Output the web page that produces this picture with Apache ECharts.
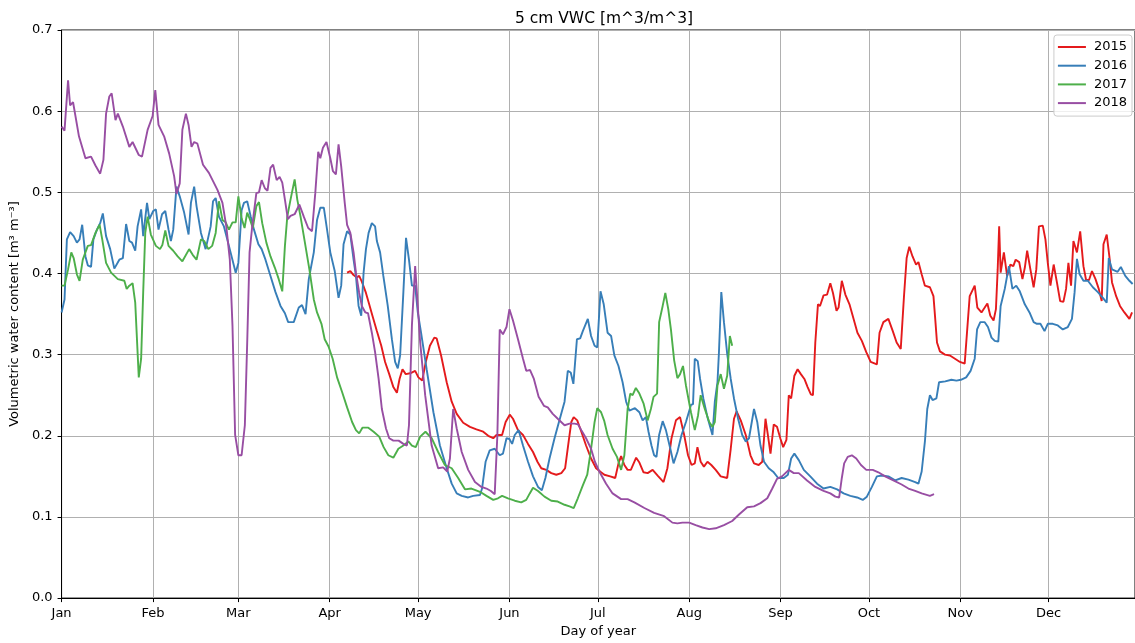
<!DOCTYPE html>
<html><head><meta charset="utf-8">
<script src="https://cdn.jsdelivr.net/npm/echarts/dist/echarts.min.js"></script>
<style>html,body{margin:0;padding:0;background:#fff}#c{width:1135px;height:643px}</style>
</head><body><div id="c"></div>
<script>
const monthStarts = [0,31,60,91,121,152,182,213,244,274,305,335];
const monthLabels = ['Jan','Feb','Mar','Apr','May','Jun','Jul','Aug','Sep','Oct','Nov','Dec'];
const seriesNames = ['2015','2016','2017','2018'];
const seriesColors = ['#e41a1c','#377eb8','#4daf4a','#984ea3'];

const vwc2015 = [[96.9,0.401],[98,0.403],[99.1,0.398],[100.2,0.395],[101,0.397],[101.9,0.390],[103.3,0.376],[104.4,0.362],[105.5,0.348],[107,0.329],[108.5,0.311],[109.8,0.291],[111.2,0.276],[112.6,0.260],[113.8,0.253],[114.7,0.270],[115.7,0.282],[116.8,0.276],[118.3,0.277],[120,0.280],[121.1,0.272],[122.4,0.268],[123.6,0.291],[125,0.311],[126.5,0.321],[127.3,0.320],[128.8,0.299],[130.7,0.266],[132.4,0.242],[134.1,0.227],[136.3,0.216],[138.6,0.211],[140.8,0.208],[143.1,0.205],[144.8,0.200],[146.5,0.197],[147.6,0.201],[149.5,0.201],[150.7,0.217],[152.1,0.226],[153.2,0.221],[154.9,0.207],[156.6,0.201],[158.3,0.190],[160,0.180],[161.5,0.168],[162.8,0.160],[164.5,0.158],[166.2,0.154],[167.9,0.152],[169.6,0.154],[170.9,0.160],[172.1,0.193],[173,0.217],[173.8,0.223],[175,0.219],[176.4,0.205],[178,0.188],[179.7,0.172],[181.4,0.160],[183.1,0.155],[184.2,0.152],[186.2,0.150],[187.9,0.148],[189,0.166],[189.9,0.175],[191,0.164],[192.1,0.158],[193.2,0.158],[195,0.173],[196.1,0.167],[197.5,0.155],[198.9,0.154],[200.6,0.158],[202.3,0.151],[204.3,0.143],[205.6,0.160],[207,0.197],[208.5,0.219],[209.9,0.223],[211.3,0.201],[212.6,0.176],[213.8,0.164],[214.9,0.166],[215.8,0.186],[216.9,0.168],[218,0.162],[219.2,0.168],[220.5,0.164],[222,0.158],[223.7,0.150],[225.9,0.148],[227.1,0.184],[228.2,0.221],[229.1,0.230],[230.5,0.219],[232.2,0.201],[233.8,0.176],[235,0.166],[236.6,0.164],[237.8,0.168],[238.9,0.221],[239.7,0.201],[240.6,0.178],[241.7,0.214],[242.8,0.211],[244,0.196],[244.9,0.186],[246,0.195],[246.8,0.250],[247.6,0.246],[248.7,0.274],[249.8,0.282],[250.9,0.276],[252.1,0.270],[253.2,0.260],[254.3,0.251],[255,0.250],[255.8,0.315],[256.7,0.362],[257.4,0.360],[258.6,0.373],[259.8,0.374],[260.9,0.388],[261.8,0.376],[263,0.354],[263.7,0.358],[264.8,0.391],[266,0.374],[267.4,0.362],[268.8,0.344],[270.1,0.327],[271.6,0.317],[273.1,0.303],[274.6,0.291],[276.7,0.288],[277.6,0.327],[278.9,0.340],[280.6,0.344],[282.1,0.329],[283.4,0.315],[284.8,0.307],[285.9,0.372],[286.8,0.419],[287.7,0.433],[288.8,0.421],[290,0.411],[290.8,0.414],[291.9,0.399],[293,0.385],[294.7,0.383],[295.9,0.372],[296.5,0.344],[297.1,0.315],[298.1,0.304],[299.8,0.300],[301.5,0.299],[303.2,0.295],[304.9,0.291],[306.5,0.289],[308.2,0.372],[309.9,0.385],[310.8,0.358],[312.2,0.352],[313.3,0.358],[314.2,0.363],[315.2,0.348],[316.3,0.342],[317.1,0.356],[317.7,0.405],[318.2,0.458],[318.7,0.401],[319.8,0.426],[320.9,0.397],[322,0.411],[323,0.409],[323.8,0.417],[325,0.414],[326.1,0.393],[326.9,0.407],[327.7,0.428],[328.8,0.405],[329.9,0.383],[330.8,0.405],[331.7,0.458],[333,0.459],[333.9,0.442],[334.7,0.413],[335.6,0.385],[336.7,0.411],[337.8,0.389],[338.9,0.366],[340,0.365],[340.9,0.381],[341.7,0.413],[342.6,0.385],[343.4,0.440],[344.6,0.426],[345.7,0.452],[346.8,0.409],[347.7,0.392],[348.7,0.392],[349.7,0.403],[350.9,0.393],[352,0.381],[353,0.366],[353.6,0.436],[354.7,0.448],[355.6,0.421],[356.5,0.389],[357.9,0.372],[359.2,0.360],[360.7,0.352],[362.4,0.344],[363.3,0.352]];

const vwc2016 = [[0,0.352],[1,0.368],[1.8,0.442],[2.9,0.451],[4.1,0.446],[5.2,0.438],[6.1,0.442],[7,0.460],[8.1,0.421],[8.9,0.410],[10,0.408],[10.8,0.442],[12,0.454],[13.1,0.462],[14,0.474],[15.1,0.446],[16.5,0.430],[17.9,0.406],[19.6,0.417],[20.8,0.419],[21.9,0.461],[23,0.440],[23.9,0.438],[25,0.428],[25.8,0.458],[27,0.479],[27.7,0.446],[29,0.487],[29.8,0.467],[31.1,0.477],[32,0.479],[32.9,0.454],[34.1,0.473],[35.2,0.477],[36.3,0.454],[37.1,0.440],[37.9,0.454],[39,0.507],[40.1,0.495],[41.6,0.475],[43.1,0.448],[43.9,0.487],[45,0.507],[45.8,0.483],[47.3,0.450],[48.9,0.430],[50.6,0.458],[51.4,0.489],[52.3,0.493],[53.4,0.470],[55.1,0.458],[56.8,0.434],[59.1,0.401],[60,0.413],[61.1,0.478],[61.9,0.487],[63,0.489],[64.2,0.470],[65.3,0.454],[66.8,0.436],[67.9,0.430],[69.2,0.417],[70.9,0.397],[72.6,0.377],[74.3,0.360],[75.8,0.351],[76.9,0.340],[78.8,0.340],[80.5,0.358],[81.6,0.361],[82.8,0.350],[83.9,0.393],[85.6,0.426],[86.7,0.466],[87.8,0.481],[89,0.481],[90.1,0.454],[91.2,0.426],[92.7,0.403],[94,0.370],[94.9,0.385],[95.7,0.436],[96.9,0.452],[98,0.448],[99.1,0.417],[99.9,0.397],[100.8,0.360],[101.7,0.348],[102.5,0.401],[103.3,0.430],[104.2,0.450],[105.3,0.462],[106.4,0.458],[107,0.440],[108.1,0.426],[109.2,0.397],[110.7,0.360],[112.1,0.319],[113.2,0.291],[114.1,0.283],[114.9,0.299],[116,0.377],[116.9,0.444],[117.9,0.417],[118.9,0.385],[120,0.385],[120.9,0.352],[122,0.327],[123.9,0.282],[126.2,0.229],[128.4,0.188],[130.7,0.160],[132.4,0.141],[134.1,0.129],[135.8,0.126],[138,0.124],[139.7,0.126],[142,0.127],[142.7,0.135],[143.9,0.168],[145.3,0.182],[147,0.184],[148.7,0.176],[149.8,0.178],[151,0.197],[152,0.196],[152.9,0.190],[153.8,0.201],[155.1,0.207],[156.6,0.188],[158.3,0.168],[160,0.150],[161.7,0.137],[163,0.133],[164.2,0.148],[165.6,0.172],[167.3,0.197],[168.8,0.217],[170.7,0.242],[171.8,0.280],[172.8,0.278],[173.7,0.264],[174.9,0.319],[176,0.320],[176.9,0.329],[178.6,0.344],[179.7,0.323],[180.9,0.311],[181.8,0.309],[182.9,0.378],[184,0.362],[185.3,0.327],[186.5,0.323],[187.6,0.299],[189,0.286],[190.4,0.266],[191.6,0.242],[192.7,0.231],[194.6,0.234],[196.1,0.229],[197.2,0.219],[198.3,0.223],[199.2,0.205],[200.2,0.188],[201.1,0.176],[201.9,0.174],[202.8,0.201],[204,0.218],[205.1,0.207],[206.6,0.184],[207.7,0.166],[209,0.180],[210.4,0.201],[211.9,0.217],[213.6,0.238],[214.3,0.239],[214.9,0.295],[215.9,0.292],[216.7,0.270],[217.8,0.246],[219.2,0.223],[220.9,0.201],[221.7,0.242],[222.6,0.266],[223.1,0.303],[223.9,0.377],[224.8,0.340],[225.9,0.301],[227.1,0.270],[228.2,0.246],[229.6,0.221],[231,0.201],[232.2,0.193],[233.3,0.197],[235,0.233],[236.1,0.217],[237.2,0.188],[238.4,0.168],[240,0.160],[241.7,0.155],[243.2,0.148],[245.1,0.148],[246.5,0.152],[247.6,0.172],[248.7,0.178],[250.2,0.170],[251.9,0.158],[254.1,0.150],[256.4,0.141],[258.6,0.135],[260.9,0.137],[263.2,0.134],[265.4,0.129],[267.7,0.126],[270,0.124],[271.9,0.121],[273.3,0.125],[275,0.137],[276.7,0.150],[278.4,0.151],[280.6,0.150],[282.9,0.145],[285.1,0.148],[287.4,0.146],[289.7,0.143],[290.8,0.141],[291.9,0.156],[293,0.193],[293.8,0.233],[294.7,0.250],[295.6,0.244],[296.9,0.246],[297.8,0.266],[299.9,0.267],[302,0.269],[303.7,0.268],[305.2,0.269],[307,0.272],[308.5,0.280],[309.9,0.295],[310.7,0.331],[311.8,0.340],[313.3,0.340],[314.4,0.334],[315.6,0.321],[316.7,0.317],[317.9,0.316],[318.7,0.360],[320.1,0.381],[321.5,0.409],[322.7,0.381],[324,0.385],[325.2,0.378],[326.9,0.362],[328.5,0.352],[329.9,0.340],[331,0.338],[332.2,0.338],[333.6,0.329],[334.7,0.338],[336.4,0.338],[338.1,0.336],[339.8,0.331],[341.5,0.334],[342.9,0.344],[343.8,0.377],[344.6,0.418],[345.5,0.399],[346.8,0.391],[348.3,0.391],[350,0.383],[351.7,0.377],[353.4,0.370],[354.7,0.364],[355.4,0.419],[356.5,0.405],[358.4,0.402],[359.5,0.408],[361,0.397],[362.4,0.391],[363.5,0.387]];

const vwc2017 = [[0,0.385],[1,0.385],[2.2,0.405],[3.3,0.426],[4.1,0.419],[5.2,0.399],[6.1,0.391],[7.2,0.417],[8.9,0.434],[10,0.435],[11.5,0.450],[12.9,0.460],[13.8,0.442],[15.1,0.413],[16.8,0.401],[19.1,0.393],[21.3,0.391],[22.1,0.381],[23,0.385],[24.1,0.388],[25,0.364],[26.2,0.272],[27,0.295],[27.7,0.377],[28.4,0.450],[29.2,0.470],[30.3,0.448],[32,0.434],[33.4,0.430],[34.2,0.435],[35.2,0.453],[36.3,0.434],[37.9,0.428],[39.4,0.421],[41,0.415],[43.3,0.430],[44.5,0.423],[45.8,0.417],[47.3,0.442],[48.4,0.440],[49.8,0.430],[51.1,0.434],[52.3,0.450],[53.4,0.489],[54.6,0.466],[55.7,0.463],[56.8,0.454],[58,0.463],[59.1,0.463],[60,0.495],[61.1,0.468],[62.1,0.456],[63,0.475],[63.9,0.467],[64.9,0.456],[66.1,0.483],[67,0.488],[68.1,0.462],[69.5,0.438],[70.9,0.421],[72.4,0.407],[73.7,0.393],[74.9,0.378],[75.8,0.434],[76.6,0.470],[77.7,0.491],[79.1,0.516],[80,0.491],[81.1,0.470],[82.4,0.442],[84.1,0.405],[85.6,0.368],[86.7,0.352],[88.2,0.338],[89.3,0.319],[90.6,0.310],[92,0.295],[93.5,0.272],[95.2,0.254],[96.9,0.235],[98.6,0.217],[99.9,0.207],[101,0.203],[102.1,0.210],[104.1,0.210],[105.9,0.205],[107.8,0.199],[109.3,0.186],[110.9,0.176],[112.6,0.173],[114.3,0.184],[116,0.188],[117.7,0.193],[118.9,0.188],[120.2,0.186],[121.7,0.199],[123.5,0.205],[125.6,0.197],[127.8,0.180],[130.1,0.164],[132.4,0.160],[134.6,0.148],[136.9,0.134],[139.1,0.135],[142,0.131],[144.2,0.126],[146.5,0.121],[148.1,0.123],[149.5,0.126],[151.5,0.123],[153.8,0.120],[156,0.118],[157.7,0.121],[158.9,0.129],[160,0.136],[161.7,0.132],[163.9,0.125],[166.2,0.120],[168.4,0.119],[170.7,0.115],[172.4,0.113],[173.8,0.111],[175.2,0.123],[176.9,0.139],[178.4,0.152],[179.7,0.184],[180.9,0.217],[181.8,0.234],[183.1,0.229],[184.2,0.218],[185.3,0.201],[187,0.184],[188.5,0.174],[189.9,0.158],[191,0.176],[192.1,0.233],[193,0.252],[193.8,0.250],[194.9,0.259],[196.1,0.252],[197.5,0.240],[198.9,0.219],[200,0.233],[200.9,0.248],[202.1,0.252],[202.8,0.340],[204,0.360],[204.9,0.376],[205.9,0.356],[206.8,0.331],[207.9,0.293],[209,0.271],[209.9,0.276],[210.9,0.286],[211.9,0.262],[213.6,0.229],[214.9,0.207],[216,0.225],[216.9,0.250],[218.3,0.233],[219.8,0.217],[220.9,0.211],[221.7,0.217],[222.6,0.262],[223.7,0.276],[224.8,0.258],[225.9,0.274],[226.8,0.323],[227.6,0.311]];

const vwc2018 = [[0,0.581],[1,0.576],[2.2,0.638],[2.9,0.607],[3.9,0.611],[5.9,0.569],[8.1,0.542],[10,0.544],[11.5,0.533],[13.1,0.523],[14.2,0.540],[15.1,0.597],[16.2,0.618],[17,0.622],[18.3,0.589],[19.1,0.597],[20.8,0.581],[23,0.556],[24.1,0.562],[26.2,0.546],[27.3,0.544],[29.2,0.577],[30.9,0.594],[31.8,0.626],[32.9,0.583],[34.8,0.569],[36.5,0.548],[38.2,0.520],[39,0.498],[40.1,0.511],[41,0.577],[42.2,0.597],[43.1,0.583],[44.1,0.556],[45,0.562],[46.1,0.560],[48,0.534],[50,0.524],[52.9,0.503],[54.6,0.487],[55.9,0.458],[57.1,0.417],[58,0.336],[58.9,0.201],[60,0.176],[61.1,0.176],[62.2,0.213],[63,0.315],[63.8,0.426],[64.7,0.458],[66.1,0.499],[67,0.500],[67.9,0.515],[69,0.505],[69.9,0.502],[70.9,0.530],[71.8,0.534],[73,0.515],[74,0.519],[74.9,0.512],[75.8,0.491],[76.8,0.467],[77.7,0.471],[79.1,0.473],[80.7,0.485],[82.2,0.470],[83.7,0.456],[85,0.452],[86.1,0.499],[87.1,0.550],[87.8,0.542],[88.7,0.555],[89.9,0.562],[91.2,0.542],[92.1,0.526],[93.1,0.522],[94,0.559],[94.9,0.532],[96.1,0.487],[96.9,0.460],[98,0.450],[99.1,0.426],[99.9,0.401],[101,0.376],[101.9,0.360],[103.1,0.352],[104,0.351],[105.3,0.327],[106.4,0.303],[107.6,0.270],[108.7,0.233],[110.1,0.209],[111.2,0.197],[112.6,0.194],[114.4,0.194],[116,0.190],[117.2,0.188],[117.9,0.213],[118.9,0.336],[120,0.409],[121.7,0.315],[123.4,0.250],[125.6,0.188],[127.8,0.160],[129.5,0.161],[130.9,0.156],[131.8,0.172],[132.9,0.233],[134.1,0.209],[135.8,0.180],[138,0.158],[140.3,0.143],[142.5,0.137],[144.2,0.135],[145.7,0.132],[147,0.128],[147.9,0.201],[148.7,0.331],[149.8,0.325],[151,0.334],[152,0.356],[153.2,0.342],[154.9,0.319],[156.6,0.295],[157.7,0.280],[159,0.281],[160.3,0.270],[161.9,0.248],[163.7,0.237],[165,0.235],[166.7,0.227],[168.4,0.221],[170.7,0.213],[172.4,0.215],[174.1,0.215],[175.3,0.214],[176.4,0.207],[178,0.197],[179.7,0.184],[181,0.168],[182.5,0.156],[184.8,0.141],[187,0.129],[189.9,0.122],[192.1,0.122],[194.4,0.118],[197.8,0.111],[201.1,0.105],[204.5,0.101],[207.3,0.093],[209,0.092],[210.7,0.093],[213,0.093],[215.2,0.090],[217.5,0.087],[219.8,0.085],[222,0.086],[224.8,0.090],[227.6,0.095],[229.9,0.103],[232.7,0.112],[235,0.113],[237.2,0.117],[239.5,0.123],[241.2,0.135],[242.8,0.147],[244.5,0.150],[246.8,0.158],[248.5,0.154],[250.2,0.154],[253,0.145],[255.8,0.137],[258.6,0.132],[260.9,0.129],[262.6,0.125],[263.9,0.124],[264.8,0.148],[265.6,0.166],[266.8,0.174],[268.2,0.176],[269.7,0.172],[271.3,0.164],[273.1,0.158],[275.3,0.158],[277.2,0.155],[279.5,0.150],[282.3,0.145],[285.1,0.140],[287.4,0.135],[289.7,0.132],[291.9,0.129],[294.7,0.126],[296.1,0.128]];

const allData = [vwc2015, vwc2016, vwc2017, vwc2018];
const FONT = 'DejaVu Sans';

const chart = echarts.init(document.getElementById('c'), null, {renderer: 'canvas'});
chart.setOption({
  animation: false,
  backgroundColor: '#fff',
  title: {
    text: '5 cm VWC [m^3/m^3]',
    left: 599, top: 6, textAlign: 'center',
    textStyle: {fontFamily: FONT, fontSize: 15.5, fontWeight: 'normal', color: '#000'}
  },
  grid: {left: 60, right: -2, top: 30, bottom: 43, show: true, borderColor: '#000', borderWidth: 1, backgroundColor: 'transparent'},
  legend: {
    right: 3, top: 35, orient: 'vertical',
    data: seriesNames.map(n => ({name: n, icon: 'rect'})),
    itemWidth: 28, itemHeight: 2, itemGap: 4.7,
    padding: [5, 5, 6, 4],
    borderColor: '#cccccc', borderWidth: 1, borderRadius: 3,
    backgroundColor: 'rgba(255,255,255,0.8)',
    textStyle: {fontFamily: FONT, fontSize: 13, lineHeight: 14, height: 14, color: '#000', padding: [0,0,0,3]}
  },
  xAxis: {
    type: 'value', min: 0, max: 364.3,
    name: 'Day of year', nameLocation: 'middle', nameGap: 26,
    nameTextStyle: {fontFamily: FONT, fontSize: 13, color: '#000'},
    axisLine: {show: true, onZero: false, lineStyle: {color: '#000', width: 1}},
    axisTick: {show: true, length: 4, customValues: monthStarts, lineStyle: {color: '#000'}},
    axisLabel: {
      customValues: monthStarts, margin: 9,
      fontFamily: FONT, fontSize: 13, color: '#000',
      formatter: v => monthLabels[monthStarts.indexOf(Math.round(v))] || ''
    },
    splitLine: {show: true, lineStyle: {color: '#b0b0b0', width: 1}}
  },
  yAxis: {
    type: 'value', min: 0, max: 0.7, interval: 0.1,
    name: 'Volumetric water content [m³ m⁻³]', nameLocation: 'middle', nameGap: 33,
    nameTextStyle: {fontFamily: FONT, fontSize: 13, color: '#000'},
    axisLine: {show: true, lineStyle: {color: '#000', width: 1}},
    axisTick: {show: true, length: 4, lineStyle: {color: '#000'}},
    axisLabel: {margin: 9, fontFamily: FONT, fontSize: 13, color: '#000', formatter: v => v.toFixed(1)},
    splitLine: {show: true, lineStyle: {color: '#b0b0b0', width: 1}}
  },
  series: seriesNames.map((n, i) => ({
    name: n, type: 'line', data: allData[i],
    symbol: 'none', showSymbol: false, smooth: false, clip: true,
    color: seriesColors[i],
    lineStyle: {color: seriesColors[i], width: 1.9},
    emphasis: {disabled: true}
  }))
});
</script>
</body></html>
